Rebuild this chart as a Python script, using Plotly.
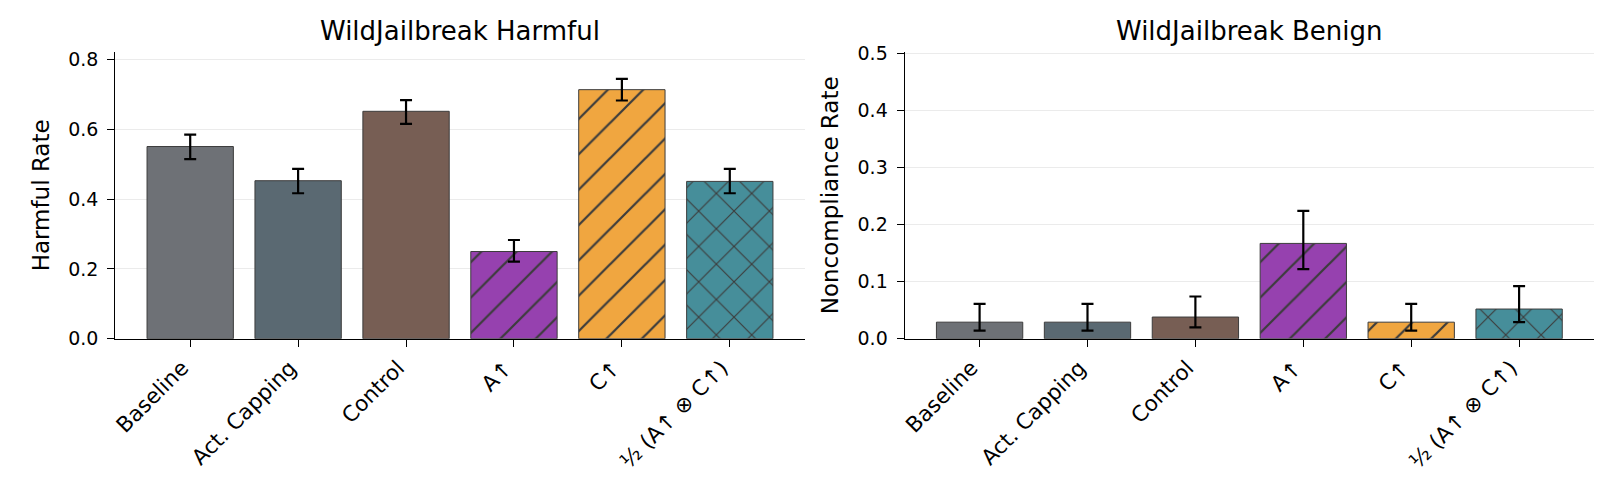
import plotly.graph_objects as go

categories = ["Baseline", "Act. Capping", "Control", "A↑", "C↑", "½ (A↑ ⊗ C↑)"]

harmful_rate = [0.551, 0.453, 0.652, 0.250, 0.714, 0.451]
harmful_err_plus = [0.034, 0.034, 0.032, 0.033, 0.031, 0.036]
harmful_err_minus = [0.036, 0.036, 0.036, 0.029, 0.031, 0.034]

benign_rate = [0.029, 0.029, 0.038, 0.167, 0.029, 0.052]
benign_err_plus = [0.032, 0.032, 0.036, 0.057, 0.032, 0.040]
benign_err_minus = [0.015, 0.015, 0.018, 0.045, 0.015, 0.023]

bar_colors = ["#6e7176", "#5a6972", "#775e54", "#9641af", "#f0a640", "#468e9a"]
hatches = ["", "", "", "/", "/", "x"]

FONT = "DejaVu Sans"
EDGE = "#3c3c3c"


def add_bars(fig, values, err_plus, err_minus, xaxis, yaxis):
    # one trace per bar so the hatch colour is honoured
    for i, cat in enumerate(categories):
        fig.add_trace(go.Bar(
            x=[cat],
            y=[values[i]],
            width=0.8,
            marker=dict(
                color=bar_colors[i],
                line=dict(color=EDGE, width=1),
                pattern=dict(shape=hatches[i], fillmode="overlay",
                             fgcolor=EDGE, fgopacity=1, size=25, solidity=0.09),
            ),
            error_y=dict(type="data", symmetric=False, array=[err_plus[i]],
                         arrayminus=[err_minus[i]], color="black", thickness=2.2, width=6),
            xaxis=xaxis,
            yaxis=yaxis,
            showlegend=False,
        ))


fig = go.Figure()
add_bars(fig, harmful_rate, harmful_err_plus, harmful_err_minus, "x", "y")
add_bars(fig, benign_rate, benign_err_plus, benign_err_minus, "x2", "y2")

xaxis_style = dict(
    type="category",
    categoryorder="array", categoryarray=categories,
    range=[-0.694, 5.694],
    automargin=False,
    showline=True, linecolor="black", linewidth=1.3,
    ticks="outside", ticklen=7, tickwidth=1.3, tickcolor="black",
    tickangle=-45,
    ticklabelshift=-8,
    tickfont=dict(family=FONT, size=21.5, color="black"),
    showgrid=False, zeroline=False,
)
yaxis_style = dict(
    automargin=False,
    showline=True, linecolor="black", linewidth=1.3,
    ticks="outside", ticklen=7, tickwidth=1.3, tickcolor="black",
    tickfont=dict(family=FONT, size=19, color="black"),
    ticklabelstandoff=5,
    showgrid=True, gridcolor="#ebebeb", gridwidth=1,
    zeroline=False,
    domain=[0.3153, 0.9089],
)

fig.update_layout(
    width=1610, height=483,
    margin=dict(l=0, r=0, t=0, b=0),
    plot_bgcolor="white", paper_bgcolor="white",
    barmode="overlay",
    xaxis=dict(xaxis_style, domain=[0.06665, 0.49484], anchor="y"),
    xaxis2=dict(xaxis_style, domain=[0.55696, 0.98509], anchor="y2"),
    yaxis=dict(yaxis_style, anchor="x", range=[0, 0.822],
               tickvals=[0, 0.2, 0.4, 0.6, 0.8], ticktext=["0.0", "0.2", "0.4", "0.6", "0.8"],
               title=dict(text="Harmful Rate", standoff=12,
                          font=dict(family=FONT, size=23, color="black"))),
    yaxis2=dict(yaxis_style, anchor="x2", range=[0, 0.5025],
                tickvals=[0, 0.1, 0.2, 0.3, 0.4, 0.5],
                ticktext=["0.0", "0.1", "0.2", "0.3", "0.4", "0.5"],
                title=dict(text="Noncompliance Rate", standoff=12,
                           font=dict(family=FONT, size=23, color="black"))),
    annotations=[
        dict(text="WildJailbreak Harmful", x=0.28075, y=0.952, xref="paper", yref="paper",
             xanchor="center", yanchor="middle", showarrow=False,
             font=dict(family=FONT, size=26, color="black")),
        dict(text="WildJailbreak Benign", x=0.77103, y=0.952, xref="paper", yref="paper",
             xanchor="center", yanchor="middle", showarrow=False,
             font=dict(family=FONT, size=26, color="black")),
    ],
)

fig.write_html("out.html")
